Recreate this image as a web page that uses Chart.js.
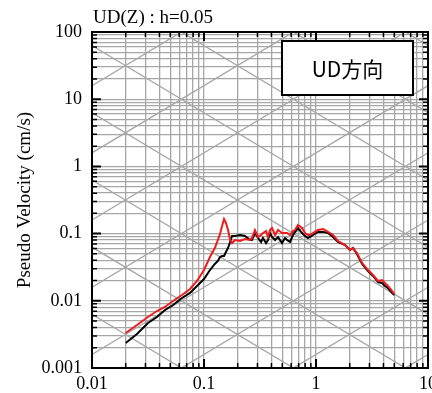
<!DOCTYPE html>
<html>
<head>
<meta charset="utf-8">
<script src="https://cdn.jsdelivr.net/npm/chart.js@4.4.0/dist/chart.umd.min.js"></script>
<style>
  body { margin: 0; background: #fff; }
</style>
</head>
<body>
<canvas id="spectrum" width="432" height="393"></canvas>
<script>
// period (s) and pseudo velocity (cm/s)
var periods = [0.020, 0.0252, 0.0316, 0.0380, 0.0448, 0.0529, 0.0636, 0.0750, 0.0866, 0.100,
  0.113, 0.125, 0.133, 0.139, 0.145, 0.151, 0.157, 0.164, 0.171, 0.178,
  0.189, 0.210, 0.232, 0.258, 0.268, 0.285, 0.304, 0.323, 0.336, 0.358,
  0.373, 0.388, 0.405, 0.431, 0.458, 0.497, 0.529, 0.551, 0.586, 0.623,
  0.649, 0.691, 0.750, 0.798, 0.848, 0.884, 0.940, 1.04, 1.16, 1.28,
  1.42, 1.57, 1.82, 2.01, 2.14, 2.32, 2.58, 2.91, 3.23, 3.58,
  3.88, 4.13, 4.39, 4.77, 5.0];

var svBlack = [0.00236, 0.00321, 0.00468, 0.00574, 0.00730, 0.00866, 0.0110, 0.0131, 0.0166, 0.0211,
  0.0287, 0.0353, 0.0391, 0.0449, 0.0464, 0.0464, 0.0532, 0.0611, 0.0750, 0.0921,
  0.0921, 0.0953, 0.0921, 0.0803, 0.0803, 0.102, 0.0860, 0.0750, 0.0860, 0.0724,
  0.0803, 0.102, 0.0890, 0.0803, 0.0890, 0.0724, 0.0860, 0.0803, 0.0750, 0.0953,
  0.106, 0.121, 0.102, 0.0921, 0.0860, 0.0890, 0.0953, 0.106, 0.106, 0.102,
  0.0890, 0.0750, 0.0676, 0.0570, 0.0611, 0.0497, 0.0353, 0.0277, 0.0234, 0.0190,
  0.0184, 0.0166, 0.0155, 0.0131, 0.0122];

var svRed = [0.00332, 0.00437, 0.00574, 0.00705, 0.00809, 0.00993, 0.0122, 0.0150, 0.0197, 0.0287,
  0.0449, 0.0611, 0.0803, 0.0986, 0.130, 0.165, 0.144, 0.113, 0.0803, 0.0724,
  0.0803, 0.0776, 0.0831, 0.0803, 0.0860, 0.113, 0.0890, 0.0953, 0.102, 0.109,
  0.0890, 0.113, 0.121, 0.0953, 0.113, 0.102, 0.102, 0.102, 0.0953, 0.109,
  0.113, 0.134, 0.121, 0.102, 0.0953, 0.0953, 0.102, 0.113, 0.117, 0.106,
  0.0953, 0.0776, 0.0676, 0.0570, 0.0611, 0.0514, 0.0365, 0.0287, 0.0242, 0.0197,
  0.0204, 0.0184, 0.0166, 0.0140, 0.0126];

// axes
var xDecades = [0.01, 0.1, 1, 10];
var yDecades = [0.001, 0.01, 0.1, 1, 10, 100];
var mantissas = [1, 2, 3, 4, 5, 6, 7, 8, 9];

// tripartite lines: acceleration (cm/s2) and displacement (cm)
var accelLines = [0.001, 0.01, 0.1, 1, 10, 100, 1000, 10000];
var dispLines = [0.00001, 0.0001, 0.001, 0.01, 0.1, 1, 10, 100];

var titleText = "UD(Z) : h=0.05";
var boxText = "UD方向";
var yTitle = "Pseudo Velocity (cm/s)";

var serif = "'Liberation Serif', 'Times New Roman', serif";
var gridColor = "#a6a6a6";

function logTicks(decades) {
  var out = [];
  for (var i = 0; i < decades.length - 1; i++) {
    mantissas.forEach(function(m) {
      out.push(parseFloat((m * decades[i]).toPrecision(6)));
    });
  }
  out.push(decades[decades.length - 1]);
  return out;
}

function isDecade(v) {
  var l = Math.log10(v);
  return Math.abs(l - Math.round(l)) < 1e-9;
}

function toPoints(ys) {
  return periods.map(function(t, i) { return {x: t, y: ys[i]}; });
}

var xTickValues = logTicks(xDecades);
var yTickValues = logTicks(yDecades);

var diagonalPlugin = {
  id: 'diagonals',
  beforeDatasetsDraw: function(chart) {
    var ctx = chart.ctx, a = chart.chartArea;
    var xs = chart.scales.x, ys = chart.scales.y;
    var t0 = xs.min, t1 = xs.max;
    ctx.save();
    ctx.beginPath();
    ctx.rect(a.left, a.top, a.right - a.left, a.bottom - a.top);
    ctx.clip();
    ctx.strokeStyle = gridColor;
    ctx.lineWidth = 1.3;
    function seg(v0, v1) {
      ctx.beginPath();
      ctx.moveTo(xs.getPixelForValue(t0), ys.getPixelForValue(v0));
      ctx.lineTo(xs.getPixelForValue(t1), ys.getPixelForValue(v1));
      ctx.stroke();
    }
    accelLines.forEach(function(sa) {
      seg(sa * t0 / (2 * Math.PI), sa * t1 / (2 * Math.PI));
    });
    dispLines.forEach(function(sd) {
      seg(2 * Math.PI * sd / t0, 2 * Math.PI * sd / t1);
    });
    ctx.restore();
  }
};

var framePlugin = {
  id: 'frame',
  afterDraw: function(chart) {
    var ctx = chart.ctx, a = chart.chartArea;
    var xs = chart.scales.x, ys = chart.scales.y;
    ctx.save();
    ctx.strokeStyle = '#000';

    // inward tick marks on all four sides
    xs.ticks.forEach(function(t) {
      var major = isDecade(t.value);
      var len = major ? 9 : 5;
      var p = xs.getPixelForValue(t.value);
      ctx.lineWidth = major ? 2 : 1.5;
      ctx.beginPath();
      ctx.moveTo(p, a.top); ctx.lineTo(p, a.top + len);
      ctx.moveTo(p, a.bottom); ctx.lineTo(p, a.bottom - len);
      ctx.stroke();
    });
    ys.ticks.forEach(function(t) {
      var major = isDecade(t.value);
      var len = major ? 9 : 5;
      var p = ys.getPixelForValue(t.value);
      ctx.lineWidth = major ? 2 : 1.5;
      ctx.beginPath();
      ctx.moveTo(a.left, p); ctx.lineTo(a.left + len, p);
      ctx.moveTo(a.right, p); ctx.lineTo(a.right - len, p);
      ctx.stroke();
    });

    ctx.lineWidth = 2;
    ctx.strokeRect(a.left, a.top, a.right - a.left, a.bottom - a.top);

    // label box in the upper right
    var bw = 131, bh = 54;
    var bx = a.right - 15 - bw, by = a.top + 9;
    ctx.fillStyle = '#fff';
    ctx.fillRect(bx, by, bw, bh);
    ctx.strokeRect(bx, by, bw, bh);
    ctx.fillStyle = '#000';
    ctx.font = "21px 'Noto Sans CJK JP', sans-serif";
    ctx.textAlign = 'center';
    ctx.textBaseline = 'middle';
    ctx.fillText(boxText, bx + bw / 2, by + bh / 2 + 1);

    // title above the plot
    ctx.font = "19px " + serif;
    ctx.textAlign = 'left';
    ctx.textBaseline = 'middle';
    ctx.fillText(titleText, a.left + 1, a.top - 14);
    ctx.restore();
  }
};

function fixWidth(w) {
  return function(s) {
    s.width = w;
    s.paddingTop = 0; s.paddingBottom = 0; s.paddingLeft = 0; s.paddingRight = 0;
  };
}
function fixHeight(h) {
  return function(s) {
    s.height = h;
    s.paddingTop = 0; s.paddingBottom = 0; s.paddingLeft = 0; s.paddingRight = 0;
  };
}

Chart.defaults.font.family = serif;
Chart.defaults.font.size = 18;
Chart.defaults.color = '#000';

var ctx = document.getElementById("spectrum").getContext('2d');
var spectrumChart = new Chart(ctx, {
  type: 'line',
  data: {
    datasets: [{
      label: "black",
      data: toPoints(svBlack),
      borderColor: '#000',
      borderWidth: 2,
      pointRadius: 0,
      tension: 0,
      order: 1
    }, {
      label: "red",
      data: toPoints(svRed),
      borderColor: '#ee1c1c',
      borderWidth: 2,
      pointRadius: 0,
      tension: 0,
      order: 0
    }]
  },
  plugins: [diagonalPlugin, framePlugin],
  options: {
    responsive: false,
    animation: false,
    parsing: false,
    layout: { padding: { top: 32, right: 4, bottom: 0, left: 0 } },
    plugins: {
      legend: { display: false },
      tooltip: { enabled: false }
    },
    scales: {
      x: {
        type: 'logarithmic',
        min: 0.01,
        max: 10,
        afterBuildTicks: function(s) {
          s.ticks = xTickValues.map(function(v) { return {value: v}; });
        },
        afterFit: fixHeight(25),
        grid: { color: gridColor, lineWidth: 1.3, drawTicks: false },
        border: { display: false },
        ticks: {
          autoSkip: false,
          maxRotation: 0,
          padding: 5,
          callback: function(v) { return isDecade(v) ? String(v) : ''; }
        }
      },
      y: {
        type: 'logarithmic',
        min: 0.001,
        max: 100,
        afterBuildTicks: function(s) {
          s.ticks = yTickValues.map(function(v) { return {value: v}; });
        },
        afterFit: fixWidth(92),
        grid: { color: gridColor, lineWidth: 1.3, drawTicks: false },
        border: { display: false },
        ticks: {
          autoSkip: false,
          padding: 10,
          callback: function(v) { return isDecade(v) ? String(v) : ''; }
        },
        title: {
          display: true,
          text: yTitle,
          font: { family: serif, size: 19 },
          padding: { top: 14, bottom: 0 }
        }
      }
    }
  }
});
</script>
</body>
</html>
